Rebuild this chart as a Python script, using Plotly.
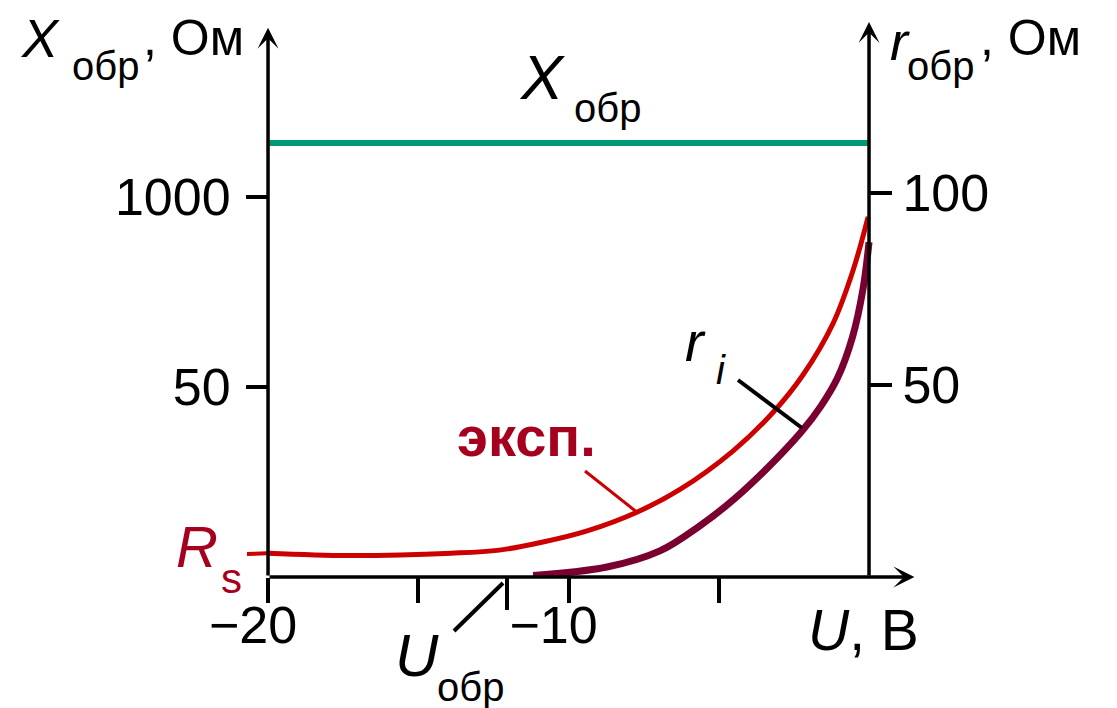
import plotly.graph_objects as go

# ---------------- data ----------------
U_exp = [-20.0, -17.3, -13.9, -12.3, -10.85, -9.38, -7.69, -6.29, -4.53, -3.19, -2.20, -1.20, -0.53, -0.03]
r_exp = [6.2, 5.6, 6.2, 7.0, 9.1, 12.0, 17.0, 22.8, 32.8, 42.9, 52.6, 66.0, 79.9, 93.8]
U_stub = [-20.7, -20.0]
r_stub = [6.0, 6.2]

U_ri = [-11.18, -8.72, -6.96, -5.62, -4.53, -3.39, -2.23, -1.60, -1.05, -0.55, -0.20, 0.0]
r_ri = [0.4, 2.6, 6.8, 13.4, 20.0, 28.3, 38.0, 44.5, 51.8, 62.5, 75.0, 87.2]

U_X = [-20.0, 0.0]
X_obr = [113.0, 113.0]

U_obr = -12.05

x_ticks = [-20, -15, -10, -5]
x_ticktext = ["\u221220", "", "\u221210", ""]
left_tickvals = [49.5, 99.0]
left_ticktext = ["50", "1000"]
right_tickvals = [50, 100]
right_ticktext = ["50", "100"]

X_RANGE = [-20.7, 1.53]
Y_RANGE = [0, 145.05]

# ---------------- styling ----------------
FONT = "Liberation Sans, Arial, sans-serif"
GREEN = "#009977"
RED = "#CC0000"
DARK = "#7B0032"
LABEL = "#A6001F"

OFF = 8  # page body margin
W, H = 1117 - OFF, 708 - OFF
L, R, T, B = 247, 915, 20, 577  # plot area in reference pixels


def pxx(x):
    return (x - L) / (R - L)


def pxy(y):
    return (B - y) / (B - T)


fig = go.Figure()
fig.add_trace(go.Scatter(x=U_X, y=X_obr, mode="lines", line=dict(color=GREEN, width=6),
                         hoverinfo="skip"))
fig.add_trace(go.Scatter(x=U_stub, y=r_stub, mode="lines", line=dict(color=RED, width=4),
                         hoverinfo="skip"))
fig.add_trace(go.Scatter(x=U_exp, y=r_exp, mode="lines",
                         line=dict(color=RED, width=5, shape="spline", smoothing=1.0),
                         hoverinfo="skip"))
fig.add_trace(go.Scatter(x=U_ri, y=r_ri, mode="lines",
                         line=dict(color=DARK, width=7, shape="spline", smoothing=1.0),
                         hoverinfo="skip"))
# invisible traces so the secondary axes get drawn
fig.add_trace(go.Scatter(x=[U_obr], y=[0], xaxis="x2", mode="markers", marker=dict(opacity=0),
                         hoverinfo="skip"))
fig.add_trace(go.Scatter(x=[-10], y=[0], yaxis="y2", mode="markers", marker=dict(opacity=0),
                         hoverinfo="skip"))

tickfont = dict(family=FONT, size=52, color="black")

fig.update_layout(
    width=W, height=H,
    margin=dict(l=L - OFF, r=W - (R - OFF), t=T - OFF, b=H - (B - OFF), autoexpand=False),
    paper_bgcolor="white", plot_bgcolor="white",
    showlegend=False,
    xaxis=dict(range=X_RANGE, domain=[0, 1], anchor="y", showgrid=False, zeroline=False, showline=False,
               tickmode="array", tickvals=x_ticks, ticktext=x_ticktext, ticks="outside",
               ticklen=25, tickwidth=3.5, tickcolor="black", tickfont=tickfont,
               ticklabelshift=-15, ticklabelstandoff=-22),
    xaxis2=dict(range=X_RANGE, overlaying="x", anchor="y", side="bottom", showgrid=False, zeroline=False,
                showline=False, tickmode="array", tickvals=[U_obr], ticks="outside", ticklen=32,
                tickwidth=4, tickcolor="black", showticklabels=False),
    yaxis=dict(range=Y_RANGE, domain=[0, 1], anchor="free", position=pxx(268), side="left",
               showgrid=False, zeroline=False, showline=False,
               tickmode="array", tickvals=left_tickvals, ticktext=left_ticktext, ticks="outside",
               ticklen=22, tickwidth=3.5, tickcolor="black", tickfont=tickfont, ticklabelstandoff=5),
    yaxis2=dict(range=Y_RANGE, overlaying="y", anchor="free", position=pxx(869), side="right",
                showgrid=False, zeroline=False, showline=False,
                tickmode="array", tickvals=right_tickvals, ticktext=right_ticktext, ticks="outside",
                ticklen=22, tickwidth=3.5, tickcolor="black", tickfont=tickfont),
)

ann = []
# axis lines with arrow heads
for (hx, hy, tx, ty) in [(X_RANGE[1] - 0.02, 0, -20, 0), (-20, 143, -20, 0), (0, 144.5, 0, 0)]:
    ann.append(dict(x=hx, y=hy, ax=tx, ay=ty, xref="x", yref="y", axref="x", ayref="y",
                    text="", showarrow=True, arrowhead=3, arrowsize=1, arrowwidth=3.5,
                    arrowcolor="black", standoff=0, startstandoff=0))


def lab(text, x, y, size, color="black", italic=False, bold=False, xanchor="left"):
    t = text
    if italic:
        t = "<i>" + t + "</i>"
    if bold:
        t = "<b>" + t + "</b>"
    ann.append(dict(x=pxx(x), y=pxy(y), xref="paper", yref="paper", text=t, showarrow=False,
                    xanchor=xanchor, yanchor="middle",
                    font=dict(family=FONT, size=size, color=color)))


# left axis title
lab("X", 18, 38, 54, italic=True)
lab("обр", 70, 66, 40)
lab(", Ом", 141, 38, 50)
# right axis title
lab("r", 888, 41, 54, italic=True)
lab("обр", 905, 66, 40)
lab(", Ом", 978, 38, 50)
# X_обр label in plot
lab("X", 517, 77, 63, italic=True)
lab("обр", 572, 108, 40)
# эксп.
lab("эксп.", 455, 436, 56, color=LABEL, bold=True)
# R_s
lab("R", 174, 546, 58, color=LABEL, italic=True)
lab("s", 219, 578, 42, color=LABEL)
# r_i
lab("r", 683, 341, 56, italic=True)
lab("i", 714, 370, 40, italic=True)
# U_обр
lab("U", 393, 655, 60, italic=True)
lab("обр", 435, 687, 40)
# U, В
lab("<i>U</i>, В", 806, 630, 57)

fig.update_layout(annotations=ann)

# leader lines
shapes = []
for (x0, y0, x1, y1, c, w) in [(585, 471, 638, 513, RED, 3), (738, 380, 802, 428, "black", 4),
                               (454, 631, 503, 583, "black", 4)]:
    shapes.append(dict(type="line", xref="paper", yref="paper", x0=pxx(x0), y0=pxy(y0),
                       x1=pxx(x1), y1=pxy(y1), line=dict(color=c, width=w)))
fig.update_layout(shapes=shapes)

fig.write_html("out.html")
